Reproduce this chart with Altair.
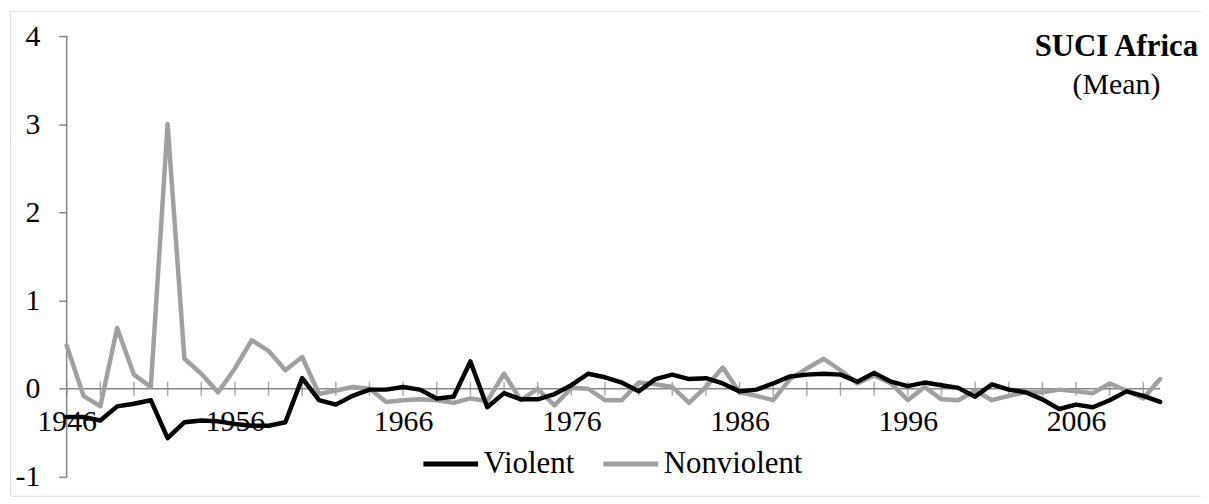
import altair as alt
import pandas as pd

# ---- data ----
years = list(range(1946, 2012))
violent = [
    -0.32, -0.32, -0.36, -0.20, -0.17, -0.13, -0.56, -0.38, -0.36, -0.37,   # 1946-1955
    -0.40, -0.42, -0.42, -0.38, 0.12, -0.13, -0.18, -0.08, -0.01, -0.01,    # 1956-1965
    0.02, -0.01, -0.11, -0.09, 0.31, -0.21, -0.05, -0.12, -0.12, -0.06,     # 1966-1975
    0.04, 0.17, 0.13, 0.07, -0.03, 0.11, 0.16, 0.11, 0.12, 0.06,            # 1976-1985
    -0.03, -0.01, 0.06, 0.14, 0.16, 0.17, 0.16, 0.08, 0.18, 0.08,           # 1986-1995
    0.03, 0.07, 0.04, 0.01, -0.09, 0.05, -0.01, -0.04, -0.12, -0.23,        # 1996-2005
    -0.18, -0.21, -0.13, -0.03, -0.08, -0.15,                               # 2006-2011
]
nonviolent = [
    0.49, -0.08, -0.20, 0.69, 0.16, 0.02, 3.00, 0.34, 0.17, -0.04,          # 1946-1955
    0.23, 0.55, 0.43, 0.21, 0.36, -0.06, -0.02, 0.02, 0.00, -0.15,          # 1956-1965
    -0.13, -0.12, -0.13, -0.16, -0.11, -0.14, 0.17, -0.13, 0.00, -0.19,     # 1966-1975
    0.01, 0.00, -0.13, -0.13, 0.07, 0.05, 0.02, -0.16, 0.02, 0.24,          # 1976-1985
    -0.04, -0.08, -0.13, 0.11, 0.23, 0.34, 0.21, 0.06, 0.15, 0.06,          # 1986-1995
    -0.13, 0.02, -0.12, -0.13, -0.02, -0.13, -0.08, -0.04, -0.04, -0.01,    # 1996-2005
    -0.03, -0.05, 0.06, -0.02, -0.11, 0.11,                                 # 2006-2011
]
series_names = ["Violent", "Nonviolent"]
series_colors = ["#000000", "#a0a0a0"]
x_label_years = [1946, 1956, 1966, 1976, 1986, 1996, 2006]
x_tick_years = list(range(1946, 2012, 2))
y_ticks = [-1, 0, 1, 2, 3, 4]

df = pd.DataFrame({
    "Year": years + years,
    "Value": violent + nonviolent,
    "Series": ["Violent"] * len(years) + ["Nonviolent"] * len(years),
})
zero_line = pd.DataFrame({"Year": [years[0]], "Year2": [years[-1]], "Value": [0]})
y_line = pd.DataFrame({"Year": [years[0]], "Value": [y_ticks[0]], "Value2": [y_ticks[-1]]})
tick_df = pd.DataFrame({"Year": x_tick_years, "Value": [0] * len(x_tick_years)})

FONT = "Liberation Serif"
AXIS_GRAY = "#868686"

xscale = alt.Scale(domain=[1942.63, 2013.43], nice=False, zero=False)
yscale = alt.Scale(domain=[-1.214, 4.282], nice=False, zero=False)

x_axis = alt.Axis(values=x_label_years, format="d", orient="bottom", offset=-107.6,
                  domain=False, ticks=False, tickSize=0, labelPadding=33,
                  labelBaseline="middle", labelFontSize=30, labelFont=FONT,
                  labelColor="black", grid=False, title=None, labelFlush=False,
                  labelOverlap=False)
y_axis = alt.Axis(values=y_ticks, offset=-57, domain=False, tickSize=8,
                  tickColor=AXIS_GRAY, tickWidth=1.5, labelPadding=19,
                  labelExpr="datum.value < 0 ? '-' + abs(datum.value) : datum.label",
                  labelFontSize=30, labelFont=FONT, labelColor="black",
                  grid=False, title=None, labelFlush=False, labelOverlap=False)

X = alt.X("Year:Q", scale=xscale, axis=x_axis)
Y = alt.Y("Value:Q", scale=yscale, axis=y_axis)

color = alt.Color(
    "Series:N",
    scale=alt.Scale(domain=series_names, range=series_colors),
    sort=series_names,
    legend=alt.Legend(orient="none", legendX=413, legendY=425, direction="horizontal",
                      title=None, symbolType="stroke", symbolSize=3025,
                      symbolStrokeWidth=5, labelFontSize=31, labelFont=FONT,
                      labelColor="black", labelOffset=3, columnPadding=18, padding=0),
)

base = alt.Chart(df)
line_style = dict(strokeWidth=4.5, strokeJoin="round", strokeCap="round")

nonviolent_line = base.transform_filter(alt.datum.Series == "Nonviolent").mark_line(**line_style).encode(
    x=X, y=Y, color=color,
)
violent_line = base.transform_filter(alt.datum.Series == "Violent").mark_line(**line_style).encode(
    x=X, y=Y, color=color,
)

zero_rule = alt.Chart(zero_line).mark_rule(color=AXIS_GRAY, strokeWidth=1.5).encode(
    x=X, x2="Year2:Q", y=Y,
)
y_rule = alt.Chart(y_line).mark_rule(color=AXIS_GRAY, strokeWidth=1.5).encode(
    x=X, y=Y, y2="Value2:Q",
)
ticks = alt.Chart(tick_df).mark_tick(orient="vertical", size=14, thickness=1.5, color=AXIS_GRAY).encode(
    x=X, y=Y,
)

chart = alt.layer(zero_rule, ticks, y_rule, nonviolent_line, violent_line).properties(
    width=1197,
    height=487,
    padding={"left": 2, "top": 2, "right": 0, "bottom": 0},
    title=alt.Title(
        "SUCI Africa", subtitle="(Mean)", anchor="end", orient="top", frame="group",
        align="center", dx=-85, offset=-90, font=FONT, fontSize=31, fontWeight="bold",
        color="black", subtitleFont=FONT, subtitleFontSize=30,
        subtitleFontWeight="normal", subtitleColor="black", subtitlePadding=7,
    ),
).configure_view(stroke="#8c8c8c", strokeWidth=1).configure(background="white")

chart.save("out.html", embed_options={"renderer": "svg", "actions": False})
